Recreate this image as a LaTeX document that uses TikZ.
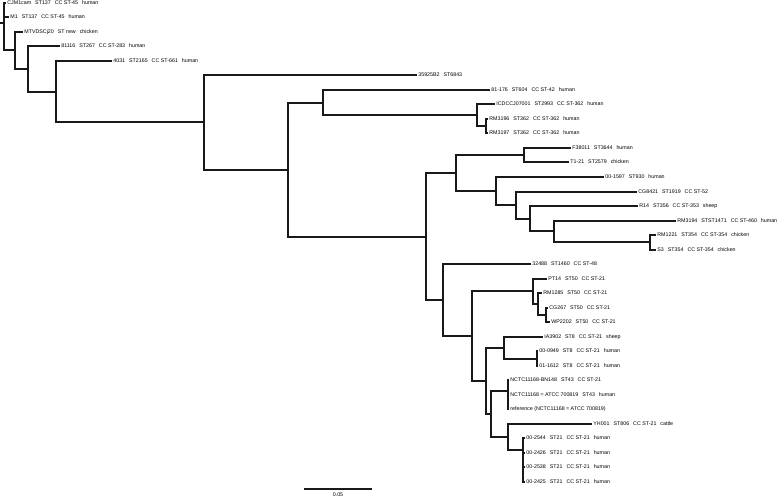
\documentclass[tikz,border=0pt]{standalone}
\usepackage{fontspec}
\setmainfont{Liberation Sans}
\newcommand\gp{\hspace{4pt}}
\begin{document}
\begin{tikzpicture}[x=1pt,y=-1pt,
  br/.style={line width=1.6pt, black!90},
  lab/.style={anchor=west, inner xsep=1.2pt, inner ysep=0pt, font=\fontsize{5.3}{6}\selectfont, text height=3.8pt, text depth=0pt}]
\useasboundingbox (0,0) rectangle (778,497);
% internal nodes
\coordinate (r0) at (0,23);
\coordinate (root) at (4,23);
\coordinate (A) at (15,50);
\coordinate (B) at (28,69);
\coordinate (C) at (56,92);
\coordinate (D) at (204,122);
\coordinate (E) at (288,170);
\coordinate (F) at (323,103);
\coordinate (H) at (477,115);
\coordinate (I) at (486,126);
\coordinate (G) at (426,237);
\coordinate (J) at (456,173);
\coordinate (L) at (524,155);
\coordinate (M) at (496,191);
\coordinate (N) at (516,205);
\coordinate (O) at (530,219);
\coordinate (P) at (554,231);
\coordinate (Q) at (650,242);
\coordinate (K) at (443,300);
\coordinate (R) at (472,336);
\coordinate (S) at (533,291);
\coordinate (U) at (538,304);
\coordinate (V) at (546,315);
\coordinate (T) at (486,381);
\coordinate (W) at (504,348);
\coordinate (Y) at (537,359);
\coordinate (X) at (491,414);
\coordinate (Z) at (508,391);
\coordinate (AB) at (508,437);
\coordinate (AC) at (523,450);
% leaves
\node[lab] (t1) at (6,3) {CJM1cam\gp ST137\gp CC ST-45\gp human};
\node[lab] (t2) at (9,17) {M1\gp ST137\gp CC ST-45\gp human};
\node[lab] (t3) at (23,32) {MTVDSCj20\gp ST new\gp chicken};
\node[lab] (t4) at (60,46) {81116\gp ST267\gp CC ST-283\gp human};
\node[lab] (t5) at (112,61) {4031\gp ST2165\gp CC ST-661\gp human};
\node[lab] (t6) at (417,75) {35925B2\gp ST6843};
\node[lab] (t7) at (490,90) {81-176\gp ST604\gp CC ST-42\gp human};
\node[lab] (t8) at (495,104) {ICDCCJ07001\gp ST2993\gp CC ST-362\gp human};
\node[lab] (t9) at (488,119) {RM3196\gp ST362\gp CC ST-362\gp human};
\node[lab] (t10) at (488,133) {RM3197\gp ST362\gp CC ST-362\gp human};
\node[lab] (t11) at (571,148) {F38011\gp ST3644\gp human};
\node[lab] (t12) at (569,162) {T1-21\gp ST2579\gp chicken};
\node[lab] (t13) at (604,177) {00-1597\gp ST930\gp human};
\node[lab] (t14) at (637,192) {CG8421\gp ST1919\gp CC ST-52};
\node[lab] (t15) at (638,206) {R14\gp ST356\gp CC ST-353\gp sheep};
\node[lab] (t16) at (676,221) {RM3194\gp STST1471\gp CC ST-460\gp human};
\node[lab] (t17) at (656,235) {RM1221\gp ST354\gp CC ST-354\gp chicken};
\node[lab] (t18) at (656,250) {S3\gp ST354\gp CC ST-354\gp chicken};
\node[lab] (t19) at (531,264) {32488\gp ST1460\gp CC ST-48};
\node[lab] (t20) at (547,279) {PT14\gp ST50\gp CC ST-21};
\node[lab] (t21) at (542,293) {RM1285\gp ST50\gp CC ST-21};
\node[lab] (t22) at (548,308) {CG267\gp ST50\gp CC ST-21};
\node[lab] (t23) at (550,322) {WP2202\gp ST50\gp CC ST-21};
\node[lab] (t24) at (543,337) {IA3902\gp ST8\gp CC ST-21\gp sheep};
\node[lab] (t25) at (538,351) {00-0949\gp ST8\gp CC ST-21\gp human};
\node[lab] (t26) at (538,366) {01-1612\gp ST8\gp CC ST-21\gp human};
\node[lab] (t27) at (509,380) {NCTC11168-BN148\gp ST43\gp CC ST-21};
\node[lab] (t28) at (509,395) {NCTC11168 = ATCC 700819\gp ST43\gp human};
\node[lab] (t29) at (509,409) {reference (NCTC11168 = ATCC 700819)};
\node[lab] (t30) at (592,424) {YH001\gp ST806\gp CC ST-21\gp cattle};
\node[lab] (t31) at (525,438) {00-2544\gp ST21\gp CC ST-21\gp human};
\node[lab] (t32) at (525,453) {00-2426\gp ST21\gp CC ST-21\gp human};
\node[lab] (t33) at (525,467) {00-2538\gp ST21\gp CC ST-21\gp human};
\node[lab] (t34) at (525,482) {00-2425\gp ST21\gp CC ST-21\gp human};
% branches
\draw[br] (r0) -- (root);
\draw[br] (root) |- (t1.west);
\draw[br] (root) |- (t2.west);
\draw[br] (root) |- (A);
\draw[br] (A) |- (t3.west);
\draw[br] (A) |- (B);
\draw[br] (B) |- (t4.west);
\draw[br] (B) |- (C);
\draw[br] (C) |- (t5.west);
\draw[br] (C) |- (D);
\draw[br] (D) |- (t6.west);
\draw[br] (D) |- (E);
\draw[br] (E) |- (F);
\draw[br] (E) |- (G);
\draw[br] (F) |- (t7.west);
\draw[br] (F) |- (H);
\draw[br] (H) |- (t8.west);
\draw[br] (H) |- (I);
\draw[br] (I) |- (t9.west);
\draw[br] (I) |- (t10.west);
\draw[br] (G) |- (J);
\draw[br] (G) |- (K);
\draw[br] (J) |- (L);
\draw[br] (J) |- (M);
\draw[br] (L) |- (t11.west);
\draw[br] (L) |- (t12.west);
\draw[br] (M) |- (t13.west);
\draw[br] (M) |- (N);
\draw[br] (N) |- (t14.west);
\draw[br] (N) |- (O);
\draw[br] (O) |- (t15.west);
\draw[br] (O) |- (P);
\draw[br] (P) |- (t16.west);
\draw[br] (P) |- (Q);
\draw[br] (Q) |- (t17.west);
\draw[br] (Q) |- (t18.west);
\draw[br] (K) |- (t19.west);
\draw[br] (K) |- (R);
\draw[br] (R) |- (S);
\draw[br] (R) |- (T);
\draw[br] (S) |- (t20.west);
\draw[br] (S) |- (U);
\draw[br] (U) |- (t21.west);
\draw[br] (U) |- (V);
\draw[br] (V) |- (t22.west);
\draw[br] (V) |- (t23.west);
\draw[br] (T) |- (W);
\draw[br] (T) |- (X);
\draw[br] (W) |- (t24.west);
\draw[br] (W) |- (Y);
\draw[br] (Y) |- (t25.west);
\draw[br] (Y) |- (t26.west);
\draw[br] (X) |- (Z);
\draw[br] (X) |- (AB);
\draw[br] (Z) |- (t27.west);
\draw[br] (Z) |- (t28.west);
\draw[br] (Z) |- (t29.west);
\draw[br] (AB) |- (t30.west);
\draw[br] (AB) |- (AC);
\draw[br] (AC) |- (t31.west);
\draw[br] (AC) |- (t32.west);
\draw[br] (AC) |- (t33.west);
\draw[br] (AC) |- (t34.west);
% scale bar
\coordinate (s1) at (304,489);
\coordinate (s2) at (372,489);
\draw[br] (s1) -- (s2);
\node[font=\fontsize{5.3}{6}\selectfont, inner sep=0pt, text height=3.8pt, text depth=0pt] (slab) at (338,494.5) {0.05};
\end{tikzpicture}
\end{document}
